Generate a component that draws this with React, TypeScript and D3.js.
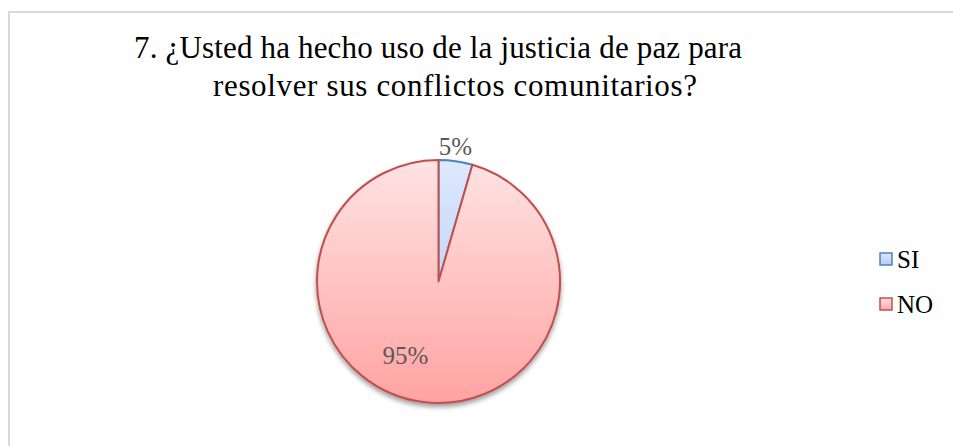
import React from "react";
import * as d3 from "d3";

const categories = ["SI", "NO"];
const values = [4.5, 95.5];
const labels = ["5%", "95%"];
const titleLines = [
  "7. ¿Usted ha hecho uso de la justicia de paz para",
  "resolver sus conflictos comunitarios?",
];

const W = 953;
const H = 446;
const cx = 438.5;
const cy = 281.5;
const r = 121.5;

const fills = ["url(#gSI)", "url(#gNO)"];
const strokes = ["#4f81bd", "#c0504d"];
const legendFills = ["url(#gSIl)", "url(#gNOl)"];
const titleWidths = [608, 484];
const titleCenters = [438, 455];

export default function App() {
  const pie = d3.pie<number>().sort(null).value((d) => d);
  const arcs = pie(values);
  const arc = d3.arc<d3.PieArcDatum<number>>().innerRadius(0).outerRadius(r);
  const labelPos = [
    [17, -127],
    [-33, 82],
  ];
  const font = "'Liberation Serif', 'Times New Roman', serif";
  return (
    <svg
      width={W}
      height={H}
      style={{ position: "absolute", left: 0, top: 0, background: "#fff" }}
    >
      <defs>
        <linearGradient id="gSI" gradientUnits="userSpaceOnUse" x1="0" y1={-r} x2="0" y2={r}>
          <stop offset="0" stopColor="#dde9fd" />
          <stop offset="1" stopColor="#a9c6f6" />
        </linearGradient>
        <linearGradient id="gNO" gradientUnits="userSpaceOnUse" x1="0" y1={-r} x2="0" y2={r}>
          <stop offset="0" stopColor="#ffe3e3" />
          <stop offset="1" stopColor="#ffa3a2" />
        </linearGradient>
        <linearGradient id="gSIl" x1="0" y1="0" x2="0" y2="1">
          <stop offset="0" stopColor="#dde9fd" />
          <stop offset="1" stopColor="#b3ccf6" />
        </linearGradient>
        <linearGradient id="gNOl" x1="0" y1="0" x2="0" y2="1">
          <stop offset="0" stopColor="#ffe0e0" />
          <stop offset="1" stopColor="#ffaaaa" />
        </linearGradient>
        <filter id="shadow" x="-20%" y="-20%" width="140%" height="140%">
          <feGaussianBlur in="SourceAlpha" stdDeviation="2.5" />
          <feOffset dx="0" dy="3" result="b" />
          <feComponentTransfer>
            <feFuncA type="linear" slope="0.4" />
          </feComponentTransfer>
          <feMerge>
            <feMergeNode />
            <feMergeNode in="SourceGraphic" />
          </feMerge>
        </filter>
      </defs>
      <rect x={9} y={12} width={W + 10} height={H + 10} fill="#fff" stroke="#d9d9d9" strokeWidth={2} />
      <g fontFamily={font} fontSize={31} fill="#000" textAnchor="middle">
        {titleLines.map((t, i) => (
          <text
            key={i}
            x={titleCenters[i]}
            y={58 + i * 38}
            textLength={titleWidths[i]}
            lengthAdjust="spacing"
          >
            {t}
          </text>
        ))}
      </g>
      <g transform={`translate(${cx},${cy})`} filter="url(#shadow)">
        {arcs.map((a, i) => (
          <path
            key={categories[i]}
            d={arc(a) || ""}
            fill={fills[i]}
            stroke={strokes[i]}
            strokeWidth={2}
            strokeLinejoin="round"
          />
        ))}
      </g>
      <g fontFamily={font} fontSize={25} fill="#595959" textAnchor="middle">
        {labels.map((l, i) => (
          <text key={i} x={cx + labelPos[i][0]} y={cy + labelPos[i][1]}>
            {l}
          </text>
        ))}
      </g>
      <g fontFamily={font} fontSize={25} fill="#000">
        {categories.map((c, i) => (
          <g key={c} transform={`translate(880,${253 + i * 45})`}>
            <rect x={0} y={0} width={12} height={12} fill={legendFills[i]} stroke={strokes[i]} strokeWidth={1.5} />
            <text x={17} y={15}>
              {c}
            </text>
          </g>
        ))}
      </g>
    </svg>
  );
}
